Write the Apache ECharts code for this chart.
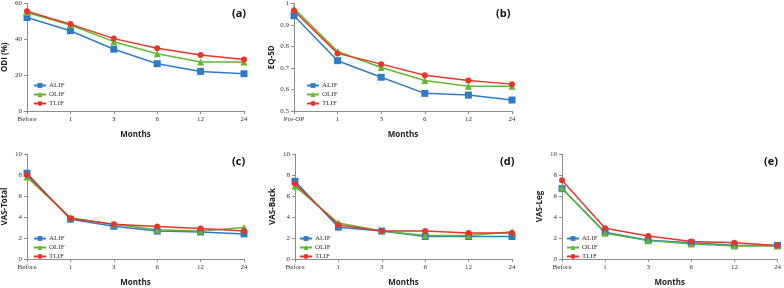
<!DOCTYPE html>
<html>
<head>
<meta charset="utf-8">
<script src="https://cdn.jsdelivr.net/npm/echarts@6/dist/echarts.min.js"></script>
<style>
  html, body { margin: 0; padding: 0; background: #fff; }
  #main { width: 784px; height: 288px; }
</style>
</head>
<body>
<div id="main"></div>
<script>
// categories
const monthsBefore = ['Before', '1', '3', '6', '12', '24'];
const monthsPreOp = ['Pre-OP', '1', '3', '6', '12', '24'];
const groups = ['ALIF', 'OLIF', 'TLIF'];

// (a) ODI (%)
const odiALIF = [52.2, 44.8, 34.5, 26.4, 22.1, 20.8];
const odiOLIF = [55.0, 48.0, 38.7, 31.9, 27.3, 27.3];
const odiTLIF = [55.7, 48.5, 40.4, 35.0, 31.2, 28.8];

// (b) EQ-5D
const eqALIF = [0.943, 0.734, 0.657, 0.582, 0.574, 0.551];
const eqOLIF = [0.978, 0.777, 0.702, 0.642, 0.615, 0.615];
const eqTLIF = [0.966, 0.768, 0.718, 0.666, 0.642, 0.625];

// (c) VAS-Total
const vtALIF = [8.17, 3.79, 3.12, 2.66, 2.57, 2.39];
const vtOLIF = [7.80, 3.94, 3.30, 2.78, 2.66, 3.00];
const vtTLIF = [8.00, 3.85, 3.30, 3.09, 2.90, 2.66];

// (d) VAS-Back
const vbALIF = [7.40, 3.03, 2.66, 2.14, 2.14, 2.14];
const vbOLIF = [6.94, 3.42, 2.66, 2.23, 2.23, 2.60];
const vbTLIF = [7.16, 3.24, 2.66, 2.66, 2.48, 2.48];

// (e) VAS-Leg
const vlALIF = [6.70, 2.55, 1.78, 1.54, 1.32, 1.29];
const vlOLIF = [6.77, 2.46, 1.75, 1.42, 1.23, 1.23];
const vlTLIF = [7.50, 2.92, 2.20, 1.66, 1.54, 1.29];

const colors = { ALIF: '#2f7cc6', OLIF: '#62b832', TLIF: '#e6352b' };
const symbols = { ALIF: 'rect', OLIF: 'triangle', TLIF: 'circle' };

const panels = [
  { tag: '(a)', name: 'ODI (%)', cats: monthsBefore, min: 0, max: 60, interval: 20,
    data: [odiALIF, odiOLIF, odiTLIF], grid: { left: 27, top: 3, width: 217, height: 108 },
    legend: { left: 33, top: 82 }, tagPos: [232, 8] },
  { tag: '(b)', name: 'EQ-5D', cats: monthsPreOp, min: 0.5, max: 1, interval: 0.1,
    data: [eqALIF, eqOLIF, eqTLIF], grid: { left: 294, top: 3, width: 218, height: 108 },
    legend: { left: 306, top: 82 }, tagPos: [496, 8] },
  { tag: '(c)', name: 'VAS-Total', cats: monthsBefore, min: 0, max: 10, interval: 2,
    data: [vtALIF, vtOLIF, vtTLIF], grid: { left: 27, top: 154, width: 217, height: 109 },
    legend: { left: 33, top: 235 }, tagPos: [232, 156] },
  { tag: '(d)', name: 'VAS-Back', cats: monthsBefore, min: 0, max: 10, interval: 2,
    data: [vbALIF, vbOLIF, vbTLIF], grid: { left: 295, top: 154, width: 217, height: 109 },
    legend: { left: 299, top: 235 }, tagPos: [500, 156] },
  { tag: '(e)', name: 'VAS-Leg', cats: monthsBefore, min: 0, max: 10, interval: 2,
    data: [vlALIF, vlOLIF, vlTLIF], grid: { left: 562, top: 154, width: 218, height: 109 },
    legend: { left: 566, top: 235 }, tagPos: [764, 156] }
];

const axisColor = '#8c8c8c';
const tickFont = { fontFamily: 'Liberation Serif', fontSize: 7, color: '#333' };
const nameFont = { fontFamily: 'Open Sans', fontSize: 8, fontWeight: 'bold', color: '#222' };

const grid = [], xAxis = [], yAxis = [], series = [], legend = [], graphic = [];

panels.forEach((p, i) => {
  grid.push(p.grid);
  xAxis.push({
    type: 'category', gridIndex: i, data: p.cats, boundaryGap: false,
    name: 'Months', nameLocation: 'middle', nameGap: 20, nameTextStyle: nameFont,
    axisLine: { lineStyle: { color: axisColor, width: 1 } },
    axisTick: { alignWithLabel: true, length: 3, lineStyle: { color: axisColor } },
    axisLabel: Object.assign({ margin: 5, interval: 0 }, tickFont),
    splitLine: { show: false }
  });
  yAxis.push({
    type: 'value', gridIndex: i, min: p.min, max: p.max, interval: p.interval,
    name: p.name, nameLocation: 'middle', nameGap: 18, nameRotate: 90, nameTextStyle: nameFont,
    axisLine: { show: true, lineStyle: { color: axisColor, width: 1 } },
    axisTick: { show: true, length: 3, lineStyle: { color: axisColor } },
    axisLabel: Object.assign({ margin: 5 }, tickFont),
    splitLine: { show: false }
  });
  groups.forEach((g, k) => {
    series.push({
      name: g, type: 'line', xAxisIndex: i, yAxisIndex: i,
      data: p.data[k], symbol: symbols[g], symbolSize: g === 'TLIF' ? 6 : 7,
      color: colors[g], lineStyle: { width: 1.5, color: colors[g] },
      itemStyle: { color: colors[g] }, animation: false
    });
  });
  legend.push({
    data: groups, orient: 'vertical', left: p.legend.left, top: p.legend.top,
    itemWidth: 12, itemHeight: 6, itemGap: 2, padding: 0,
    textStyle: { fontFamily: 'Liberation Serif', fontSize: 7, color: '#333', padding: [0, 0, 0, -2] }
  });
  graphic.push({
    type: 'text', left: p.tagPos[0], top: p.tagPos[1],
    style: { text: p.tag, font: 'bold 11px "Open Sans"', fill: '#111' }
  });
});

const chart = echarts.init(document.getElementById('main'));
chart.setOption({
  backgroundColor: '#fff',
  animation: false,
  grid, xAxis, yAxis, series, legend, graphic
});
</script>
</body>
</html>
